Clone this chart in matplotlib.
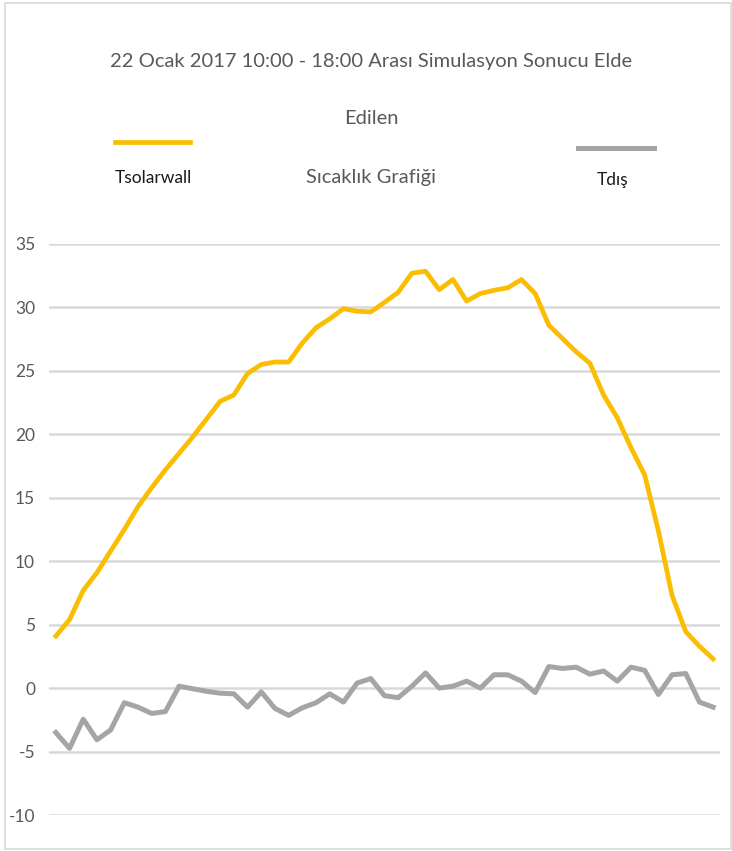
import matplotlib
matplotlib.use("Agg")
import matplotlib.pyplot as plt
from matplotlib.patches import Rectangle
from matplotlib.lines import Line2D

plt.rcParams['font.family'] = ['Lato', 'DejaVu Sans']

title_lines = ["22 Ocak 2017 10:00 - 18:00 Arası Simulasyon Sonucu Elde", "Edilen", "Sıcaklık Grafiği"]
series_names = ["Tsolarwall", "Tdış"]
yticks = [-10, -5, 0, 5, 10, 15, 20, 25, 30, 35]

# 49 samples (10:00 - 18:00, every 10 minutes)
t_solarwall = [4.1, 5.4, 7.7, 9.1, 10.8, 12.5, 14.3, 15.8, 17.2, 18.5,
               19.8, 21.2, 22.6, 23.1, 24.8, 25.5, 25.7, 25.7, 27.2, 28.4,
               29.1, 29.9, 29.7, 29.65, 30.4, 31.2, 32.7, 32.85, 31.4, 32.2,
               30.5, 31.1, 31.35, 31.55, 32.2, 31.1, 28.6, 27.55, 26.5, 25.6,
               23.1, 21.3, 18.95, 16.8, 12.4, 7.3, 4.45, 3.3, 2.3]
t_dis = [-3.5, -4.75, -2.45, -4.07, -3.3, -1.15, -1.5, -2.0, -1.85, 0.15,
         -0.05, -0.25, -0.4, -0.45, -1.5, -0.3, -1.6, -2.15, -1.55, -1.15,
         -0.45, -1.1, 0.4, 0.75, -0.6, -0.75, 0.15, 1.2, 0.0, 0.15,
         0.55, 0.0, 1.05, 1.05, 0.55, -0.35, 1.7, 1.55, 1.65, 1.1,
         1.35, 0.55, 1.65, 1.4, -0.5, 1.05, 1.15, -1.1, -1.5]

W, H = 732, 851
fig = plt.figure(figsize=(W / 100, H / 100), dpi=100)
fig.patch.set_facecolor('white')

# chart border
fig.add_artist(Rectangle((5 / W, 1 - 849 / H), (W - 6) / W, (849 - 3) / H,
                         transform=fig.transFigure, fill=False,
                         edgecolor='#D9D9D9', lw=1.2))

ax = fig.add_axes([49 / W, 1 - 815 / H, (720 - 49) / W, (815 - 244) / H])
x = list(range(len(t_solarwall)))
ax.plot(x, t_solarwall, color='#FABD00', lw=3.4, solid_joinstyle='round', zorder=3)
ax.plot(x, t_dis, color='#A5A5A5', lw=3.6, solid_joinstyle='round', zorder=3)

ax.set_xlim(-0.5, len(x) - 0.5)
ax.set_ylim(-10, 35)
ax.set_yticks(yticks)
ax.set_yticklabels([str(v) for v in yticks])
ax.set_xticks([])
for s in ax.spines.values():
    s.set_visible(False)
ax.grid(axis='y', color='#D9D9D9', lw=1.8)
ax.set_axisbelow(True)
ax.tick_params(axis='y', length=0, pad=10, labelsize=12.5, labelcolor='#595959')

# title
title_y = [62, 118, 178]
for txt, yy in zip(title_lines, title_y):
    fig.text(371 / W, 1 - yy / H, txt, ha='center', va='center',
             fontsize=14.5, color='#595959')

# legend
fig.add_artist(Line2D([115 / W, 190 / W], [1 - 142 / H, 1 - 142 / H],
                      transform=fig.transFigure, color='#FABD00', lw=3.4))
fig.text(153 / W, 1 - 178 / H, series_names[0], ha='center', va='center',
         fontsize=12.5, color='#1a1a1a')
fig.add_artist(Line2D([578 / W, 654 / W], [1 - 148 / H, 1 - 148 / H],
                      transform=fig.transFigure, color='#A5A5A5', lw=3.6))
fig.text(613 / W, 1 - 180 / H, series_names[1], ha='center', va='center',
         fontsize=12.5, color='#1a1a1a')

fig.savefig('out.png', dpi=100, facecolor='white')
